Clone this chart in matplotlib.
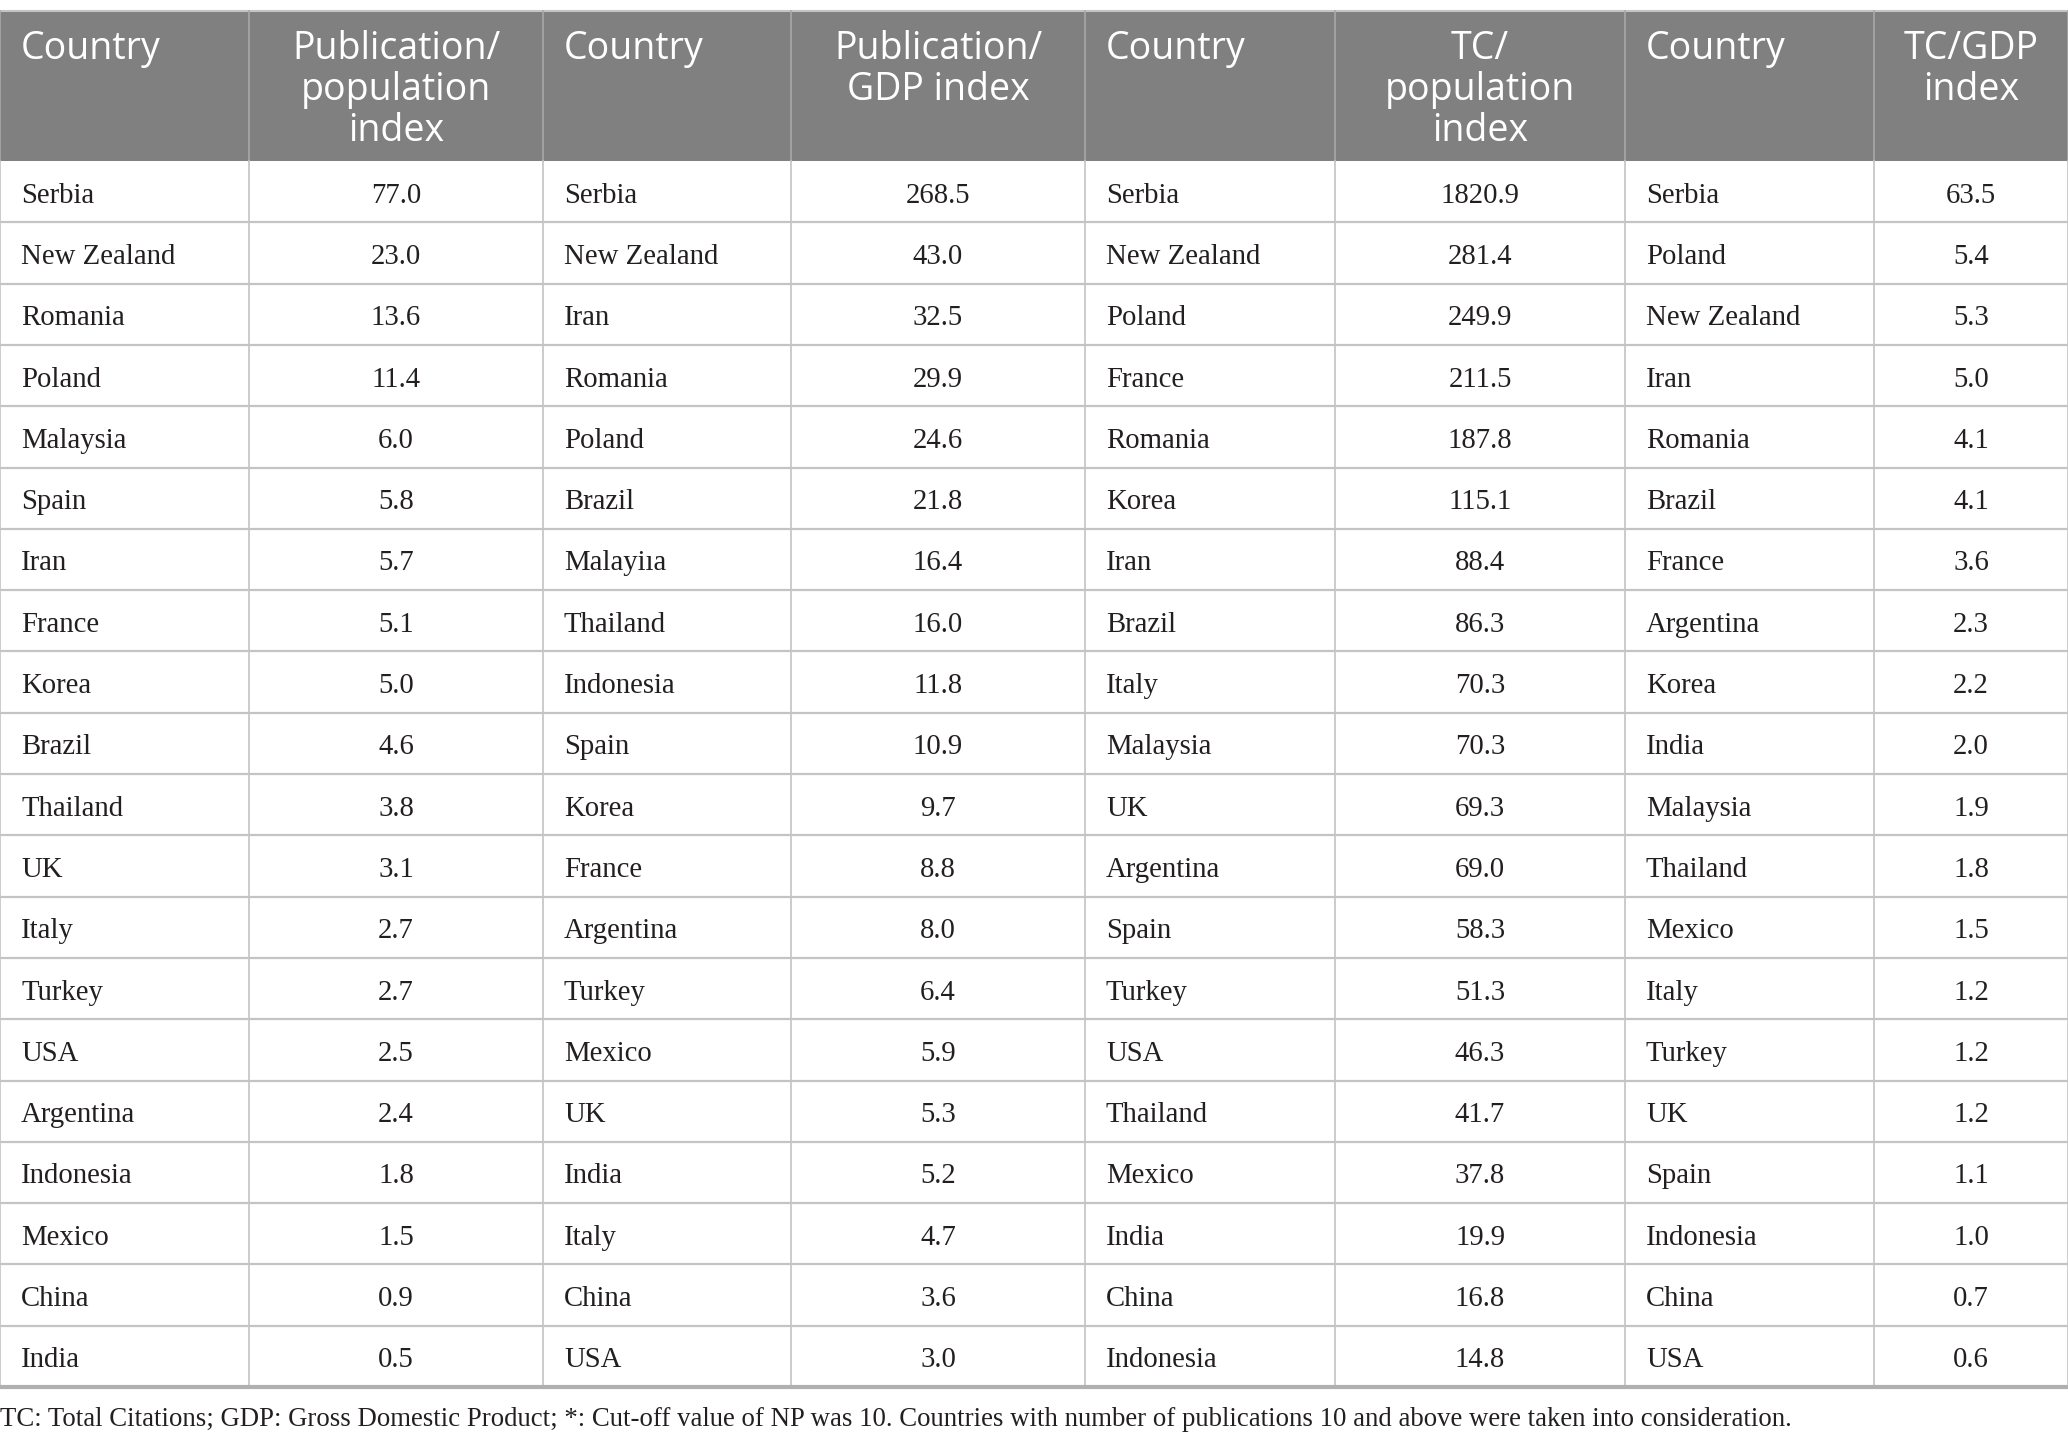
import matplotlib.pyplot as plt
from matplotlib.patches import Rectangle

# table contents
headers = ['Country', 'Publication/\npopulation\nindex', 'Country', 'Publication/\nGDP index',
           'Country', 'TC/\npopulation\nindex', 'Country', 'TC/GDP\nindex']

pub_pop_country = ['Serbia', 'New Zealand', 'Romania', 'Poland', 'Malaysia', 'Spain', 'Iran',
                   'France', 'Korea', 'Brazil', 'Thailand', 'UK', 'Italy', 'Turkey', 'USA',
                   'Argentina', 'Indonesia', 'Mexico', 'China', 'India']
pub_pop_value = [77.0, 23.0, 13.6, 11.4, 6.0, 5.8, 5.7, 5.1, 5.0, 4.6, 3.8, 3.1, 2.7, 2.7, 2.5,
                 2.4, 1.8, 1.5, 0.9, 0.5]

pub_gdp_country = ['Serbia', 'New Zealand', 'Iran', 'Romania', 'Poland', 'Brazil', 'Malayiıa',
                   'Thailand', 'Indonesia', 'Spain', 'Korea', 'France', 'Argentina', 'Turkey',
                   'Mexico', 'UK', 'India', 'Italy', 'China', 'USA']
pub_gdp_value = [268.5, 43.0, 32.5, 29.9, 24.6, 21.8, 16.4, 16.0, 11.8, 10.9, 9.7, 8.8, 8.0, 6.4,
                 5.9, 5.3, 5.2, 4.7, 3.6, 3.0]

tc_pop_country = ['Serbia', 'New Zealand', 'Poland', 'France', 'Romania', 'Korea', 'Iran',
                  'Brazil', 'Italy', 'Malaysia', 'UK', 'Argentina', 'Spain', 'Turkey', 'USA',
                  'Thailand', 'Mexico', 'India', 'China', 'Indonesia']
tc_pop_value = [1820.9, 281.4, 249.9, 211.5, 187.8, 115.1, 88.4, 86.3, 70.3, 70.3, 69.3, 69.0,
                58.3, 51.3, 46.3, 41.7, 37.8, 19.9, 16.8, 14.8]

tc_gdp_country = ['Serbia', 'Poland', 'New Zealand', 'Iran', 'Romania', 'Brazil', 'France',
                  'Argentina', 'Korea', 'India', 'Malaysia', 'Thailand', 'Mexico', 'Italy',
                  'Turkey', 'UK', 'Spain', 'Indonesia', 'China', 'USA']
tc_gdp_value = [63.5, 5.4, 5.3, 5.0, 4.1, 4.1, 3.6, 2.3, 2.2, 2.0, 1.9, 1.8, 1.5, 1.2, 1.2, 1.2,
                1.1, 1.0, 0.7, 0.6]

footnote = ('TC: Total Citations; GDP: Gross Domestic Product; *: Cut-off value of NP was 10. '
            'Countries with number of publications 10 and above were taken into consideration.')

W, H = 2068, 1446
col_x = [0, 249, 543, 791, 1085, 1335, 1625, 1874, 2068]
top, head_bot, row_h = 11, 161, 61.3
n_rows = len(pub_pop_country)
bottom = head_bot + n_rows * row_h

header_bg = '#808080'
grid = '#c4c4c4'
ink = '#231f20'

fig = plt.figure(figsize=(W / 100, H / 100), dpi=100)
ax = fig.add_axes([0, 0, 1, 1])
ax.set_xlim(0, W)
ax.set_ylim(H, 0)
ax.axis('off')

# header band
ax.add_patch(Rectangle((0, top), W, head_bot - top, color=header_bg, lw=0))
ax.plot([0, W], [top, top], color=grid, lw=1.5)
for x in col_x:
    ax.plot([x, x], [top, head_bot], color='#a8a8a8', lw=1.2)
    ax.plot([x, x], [head_bot, bottom], color=grid, lw=1.2)

for i, h in enumerate(headers):
    if i % 2 == 0:
        ax.text(col_x[i] + 21, top + 19, h, ha='left', va='top', color='white',
                family='Open Sans', fontsize=27, linespacing=1.1)
    else:
        ax.text((col_x[i] + col_x[i + 1]) / 2, top + 19, h, ha='center', va='top',
                color='white', family='Open Sans', fontsize=27, linespacing=1.1,
                multialignment='center')

# body rows
columns = [pub_pop_country, pub_pop_value, pub_gdp_country, pub_gdp_value,
           tc_pop_country, tc_pop_value, tc_gdp_country, tc_gdp_value]
for r in range(n_rows):
    yc = head_bot + (r + 0.5) * row_h + 4
    for i, col in enumerate(columns):
        if i % 2 == 0:
            ax.text(col_x[i] + 21, yc, col[r], ha='left', va='center', color=ink,
                    family='Liberation Serif', fontsize=20.7)
        else:
            ax.text((col_x[i] + col_x[i + 1]) / 2, yc, f'{col[r]:.1f}', ha='center',
                    va='center', color=ink, family='Liberation Serif', fontsize=20.7)
    if r > 0:
        ax.plot([0, W], [head_bot + r * row_h] * 2, color=grid, lw=1.6)

ax.plot([0, W], [bottom, bottom], color='#b0b0b0', lw=3)

ax.text(0, 1420, footnote, ha='left', va='center', color=ink,
        family='Liberation Serif', fontsize=19.3)

fig.savefig('out.png', dpi=100)
